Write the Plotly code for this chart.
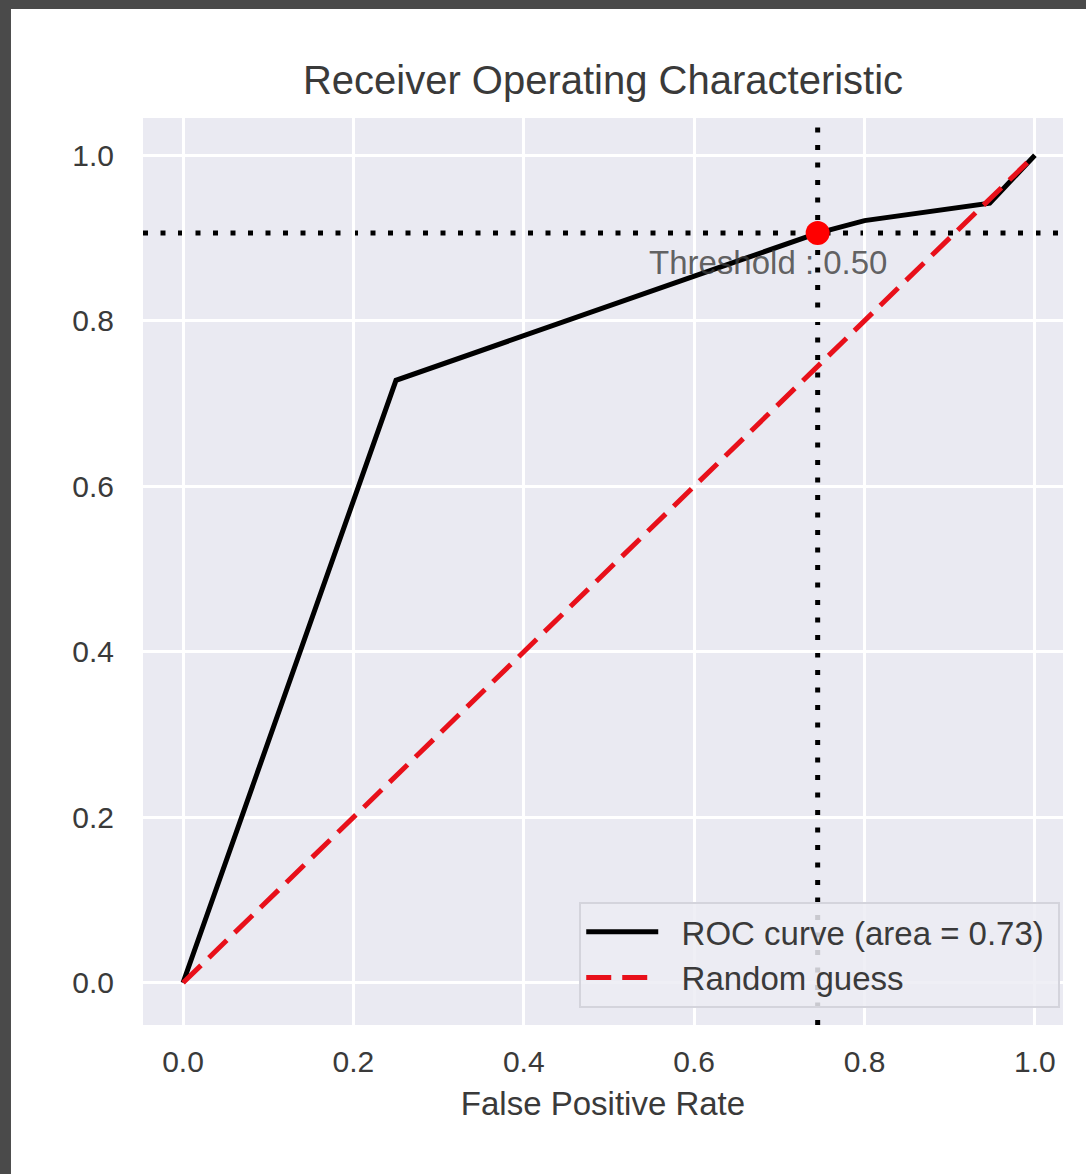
import plotly.graph_objects as go

# ---- data ----
fpr = [0.0, 0.25, 0.745, 0.80, 0.947, 1.0]
tpr = [0.0, 0.728, 0.906, 0.921, 0.942, 1.0]
diag_x = [0.0, 1.0]
diag_y = [0.0, 1.0]
thr_fpr = 0.745
thr_tpr = 0.906
thr_label = "Threshold : 0.50"
roc_auc = 0.73
tick_vals = [0.0, 0.2, 0.4, 0.6, 0.8, 1.0]
tick_text = ["0.0", "0.2", "0.4", "0.6", "0.8", "1.0"]

FONT = "Liberation Sans, Arial, Helvetica, sans-serif"
TXT = "#3a3a3a"
PRE = "\u00a0\u00a0"
POST = "\u00a0"

fig = go.Figure()

fig.add_trace(go.Scatter(
    x=fpr, y=tpr, mode="lines",
    line=dict(color="black", width=5),
    name=PRE + f"ROC curve (area = {roc_auc:.2f})" + POST,
))
fig.add_trace(go.Scatter(
    x=diag_x, y=diag_y, mode="lines",
    line=dict(color="#e8101a", width=5, dash="25px,11px"),
    name=PRE + "Random guess" + POST,
))
fig.add_trace(go.Scatter(
    x=[thr_fpr], y=[thr_tpr], mode="markers",
    marker=dict(color="#ff0000", size=24),
    showlegend=False,
))

# dotted threshold lines
fig.add_shape(type="line", xref="x", yref="paper", x0=thr_fpr, x1=thr_fpr, y0=0, y1=1,
              line=dict(color="black", width=5, dash="5px,12.5px"), layer="between")
fig.add_shape(type="line", xref="paper", yref="y", x0=0, x1=1, y0=thr_tpr, y1=thr_tpr,
              line=dict(color="black", width=5, dash="5px,12.5px"), layer="between")

fig.add_annotation(x=thr_fpr, y=thr_tpr, xref="x", yref="y", text=thr_label,
                   showarrow=False, xshift=-50, yshift=-29,
                   font=dict(family=FONT, size=33, color="rgba(60,60,60,0.8)"))

# screenshot frame (dark strips top and left)
frame = "#4a4a4a"
fig.add_shape(type="rect", xref="paper", yref="paper", x0=-0.16, x1=-0.1435, y0=-0.17, y1=1.14,
              fillcolor=frame, line=dict(width=0), layer="above")
fig.add_shape(type="rect", xref="paper", yref="paper", x0=-0.16, x1=1.03, y0=1.1202, y1=1.14,
              fillcolor=frame, line=dict(width=0), layer="above")

axis_common = dict(
    tickvals=tick_vals, ticktext=tick_text,
    showgrid=True, gridcolor="white", gridwidth=3,
    zeroline=False, showline=False, ticks="",
    tickfont=dict(family=FONT, size=30, color=TXT),
)

fig.update_xaxes(range=[-0.047, 1.033], title=dict(text="False Positive Rate",
                 font=dict(family=FONT, size=33, color=TXT), standoff=14),
                 ticklabelstandoff=16, **axis_common)
fig.update_yaxes(range=[-0.051, 1.045], ticklabelstandoff=28, **axis_common)

fig.update_layout(
    width=1086, height=1174, autosize=False,
    margin=dict(l=143, r=23, t=118, b=149),
    paper_bgcolor="white", plot_bgcolor="#eaeaf2",
    title=dict(text="Receiver Operating Characteristic", x=0.5, xanchor="center",
               xref="paper", y=1 - 80 / 1174, yanchor="middle",
               font=dict(family=FONT, size=40, color=TXT)),
    legend=dict(x=0.997, y=0.019, xanchor="right", yanchor="bottom",
                bgcolor="rgba(236,236,243,0.85)", bordercolor="#d4d4dc", borderwidth=2,
                font=dict(family=FONT, size=33, color=TXT), itemwidth=72,
                tracegroupgap=0),
    showlegend=True,
)

fig.write_html("out.html")
